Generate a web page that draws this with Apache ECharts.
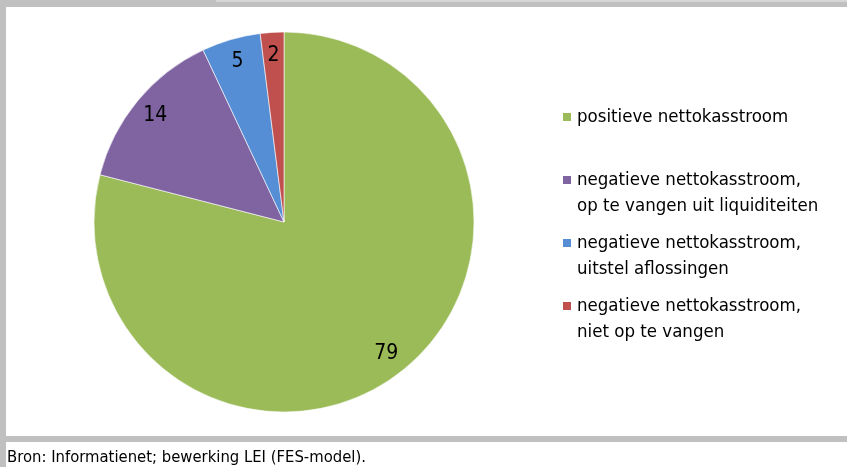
<!DOCTYPE html>
<html><head><meta charset="utf-8">
<script src="https://cdn.jsdelivr.net/npm/echarts@6/dist/echarts.min.js"></script>
<style>html,body{margin:0;padding:0;background:#fff}#c{width:847px;height:467px}</style>
</head><body><div id="c"></div>
<script>
const categories = [
  'positieve nettokasstroom',
  'negatieve nettokasstroom,\nop te vangen uit liquiditeiten',
  'negatieve nettokasstroom,\nuitstel aflossingen',
  'negatieve nettokasstroom,\nniet op te vangen'
];
const values = [79, 14, 5, 2];
const colors = ['#9BBB59', '#8064A2', '#558ED5', '#C0504D'];
const footer = 'Bron: Informatienet; bewerking LEI (FES-model).';

const FONT = "'Liberation Sans Narrow', 'DejaVu Sans Condensed', 'Arial Narrow', sans-serif";
const data = categories.map((n, i) => ({ name: n, value: values[i], itemStyle: { color: colors[i] } }));

const tallIcon = 'path://M0,0h10v10h-10z M0,36h0.01v0.01h-0.01z';
const legendTops = [99, 162, 225, 288];
const legends = categories.map((n, i) => ({
  data: [n],
  orient: 'vertical',
  left: 556,
  top: legendTops[i],
  selectedMode: false,
  icon: i === 0 ? 'rect' : tallIcon,
  itemWidth: 10,
  itemHeight: i === 0 ? 10 : 36,
  itemGap: 0,
  textStyle: { fontFamily: FONT, fontSize: 18.5, color: '#000', lineHeight: 26 }
}));

const chart = echarts.init(document.getElementById('c'), null, { renderer: 'canvas' });
chart.setOption({
  backgroundColor: '#fff',
  animation: false,
  legend: legends,
  graphic: [
    { type: 'rect', shape: { x: 0, y: 0, width: 847, height: 7 }, style: { fill: '#c0c0c0' }, silent: true },
    { type: 'rect', shape: { x: 216, y: 0, width: 631, height: 2 }, style: { fill: '#d6d6d6' }, silent: true },
    { type: 'rect', shape: { x: 0, y: 0, width: 6, height: 467 }, style: { fill: '#c0c0c0' }, silent: true },
    { type: 'rect', shape: { x: 0, y: 436, width: 847, height: 6 }, style: { fill: '#c0c0c0' }, silent: true },
    { type: 'text', left: 7, top: 449, style: { text: footer, fontFamily: FONT, fontSize: 16.5, fill: '#000' }, silent: true }
  ],
  series: [
    {
      type: 'pie',
      center: [284, 222],
      radius: [0, 190],
      startAngle: 90,
      clockwise: true,
      data: data,
      label: { show: false },
      labelLine: { show: false },
      itemStyle: { borderColor: '#fff', borderWidth: 0.6 },
      emphasis: { disabled: true }
    },
    {
      type: 'pie',
      center: [284, 222],
      radius: [138, 190],
      startAngle: 90,
      clockwise: true,
      silent: true,
      legendHoverLink: false,
      data: categories.map((n, i) => ({ name: n + ' ', value: values[i] })),
      itemStyle: { color: 'rgba(0,0,0,0)', borderWidth: 0 },
      label: { show: true, position: 'inside', formatter: '{c}', fontFamily: FONT, fontSize: 21, color: '#000' },
      labelLine: { show: false },
      emphasis: { disabled: true }
    }
  ]
});
</script></body></html>
